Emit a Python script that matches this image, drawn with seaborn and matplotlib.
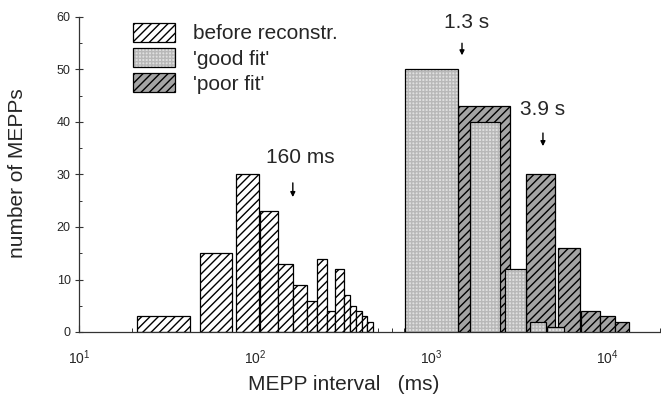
import matplotlib
matplotlib.use("Agg")
import matplotlib.pyplot as plt
import seaborn as sns
import numpy as np
from matplotlib.patches import Patch

# ---- data ----
before_left = [21.4, 48.7, 78, 106.7, 135, 164, 197, 225, 256, 285, 320, 347, 375, 406, 433]
before_right = [42.7, 74, 105, 135, 164, 197, 225, 256, 285, 320, 347, 375, 406, 433, 468]
before_counts = [3, 15, 30, 23, 13, 9, 6, 14, 4, 12, 7, 5, 4, 3, 2]

good_left = [711, 1666, 2630, 3652, 4560]
good_right = [1422, 2466, 3467, 4500, 5700]
good_counts = [50, 40, 12, 2, 1]

poor_left = [1422, 3467, 5268, 7110, 9120, 11100]
poor_right = [2810, 5064, 7025, 9120, 11100, 13300]
poor_counts = [43, 30, 16, 4, 3, 2]

labels = ["before reconstr.", "'good fit'", "'poor fit'"]
# (text, text x, text y, arrow x, arrow start y, arrow end y)
annotations = [("160 ms", 180, 33.3, 164, 28.4, 25.7),
               ("1.3 s", 1600, 59.0, 1500, 55.0, 52.7),
               ("3.9 s", 4325, 42.4, 4325, 37.9, 35.4)]

sns.set_theme(style="ticks")
plt.rcParams["font.family"] = ["Liberation Sans", "DejaVu Sans"]
plt.rcParams["hatch.linewidth"] = 1.0

fig = plt.figure(figsize=(6.61, 4.01), dpi=100)
ax = fig.add_axes([79 / 661, 1 - 332 / 401, 581 / 661, 315 / 401])
ax.set_xscale("log")

lw = 0.9
w = lambda l, r: np.array(r) - np.array(l)

ax.bar(x=before_left, height=before_counts, width=w(before_left, before_right),
       align="edge", facecolor="white", edgecolor="black",
       hatch="////", linewidth=lw, zorder=2)
ax.bar(x=poor_left, height=poor_counts, width=w(poor_left, poor_right),
       align="edge", facecolor="#a4a4a4", edgecolor="black",
       hatch="////", linewidth=lw, zorder=3)
ax.bar(x=good_left, height=good_counts, width=w(good_left, good_right),
       align="edge", facecolor="#e0e0e0", edgecolor="#b8b8b8",
       hatch="+++++", linewidth=0, zorder=4)
ax.bar(x=good_left, height=good_counts, width=w(good_left, good_right),
       align="edge", fill=False, edgecolor="black",
       linewidth=lw, zorder=5)

ax.set_xlim(10, 20000)
ax.set_ylim(0, 60)
ax.set_yticks(np.arange(0, 61, 10))
ax.set_yticks(np.arange(5, 60, 10), minor=True)
sns.despine(ax=ax)
for s in ("left", "bottom"):
    ax.spines[s].set_linewidth(0.9)
    ax.spines[s].set_color("#333333")

ax.tick_params(axis="both", which="both", direction="in", color="#333333")
ax.tick_params(axis="x", which="major", length=5, width=0.8, pad=12, labelsize=10)
ax.tick_params(axis="x", which="minor", length=3, width=0.7)
ax.tick_params(axis="y", which="major", direction="inout", length=6, width=0.8,
               pad=3, labelsize=9)
ax.tick_params(axis="y", which="minor", length=2.5, width=0.7)

ax.set_xlabel("MEPP interval   (ms)", fontsize=15)
ax.xaxis.label.set_va("center")
ax.xaxis.set_label_coords((344 - 79) / 581, -(385 - 332) / 315)
ax.set_ylabel("number of MEPPs", fontsize=15)
ax.yaxis.label.set_va("center")
ax.yaxis.set_label_coords((18 - 79) / 581, (332 - 173) / 315)

for txt, tx, ty, axx, y0, y1 in annotations:
    ax.text(tx, ty, txt, ha="center", va="center", fontsize=15)
    ax.annotate("", xy=(axx, y1), xytext=(axx, y0),
                arrowprops=dict(arrowstyle="-|>", lw=1.0, color="black",
                                mutation_scale=7, shrinkA=0, shrinkB=0))

h_before = Patch(facecolor="white", edgecolor="black", hatch="////", linewidth=lw)
h_good = (Patch(facecolor="#e0e0e0", edgecolor="#b8b8b8", hatch="+++++", linewidth=0),
          Patch(fill=False, edgecolor="black", linewidth=lw))
h_poor = Patch(facecolor="#a4a4a4", edgecolor="black", hatch="////", linewidth=lw)
fig.legend([h_before, h_good, h_poor], labels, loc="upper left",
           bbox_to_anchor=(133 / 661, 1 - 23 / 401), frameon=False,
           fontsize=15, handlelength=2.0, handleheight=1.0,
           labelspacing=0.22, handletextpad=0.87, borderpad=0, borderaxespad=0)

fig.savefig("out.png", dpi=100)
